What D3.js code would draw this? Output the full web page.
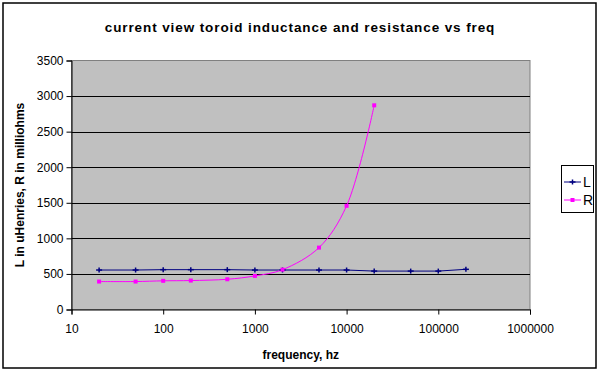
<!DOCTYPE html>
<html><head><meta charset="utf-8">
<script src="https://cdn.jsdelivr.net/npm/d3@7"></script>
<style>body{margin:0;background:#fff}svg{display:block}text{font-family:"Liberation Sans",Arial,sans-serif}</style>
</head><body><svg id="c" width="600" height="371"></svg>
<script>
const freqs = [20, 50, 100, 200, 500, 1000, 2000, 5000, 10000, 20000, 50000, 100000, 200000];
const lValues = [555, 555, 560, 560, 560, 555, 555, 555, 555, 540, 540, 540, 565];
const rFreqs = [20, 50, 100, 200, 500, 1000, 2000, 5000, 10000, 20000];
const rValues = [393, 393, 403, 407, 425, 472, 560, 870, 1458, 2870];
const xTicks = [10, 100, 1000, 10000, 100000, 1000000];
const yTicks = [0, 500, 1000, 1500, 2000, 2500, 3000, 3500];
const seriesNames = ["L", "R"];
const seriesColors = ["#000080", "#FF00FF"];

const svg = d3.select("#c");
const m = {left: 71.5, right: 530, top: 60.5, bottom: 309.5};

svg.append("rect").attr("x", 3).attr("y", 3).attr("width", 593).attr("height", 365)
  .attr("fill", "#fff").attr("stroke", "#000").attr("stroke-width", 1.5);

const x = d3.scaleLog().domain([10, 1000000]).range([m.left, m.right]);
const y = d3.scaleLinear().domain([0, 3500]).range([m.bottom, m.top]);

svg.append("rect").attr("x", m.left).attr("y", m.top).attr("width", m.right - m.left).attr("height", m.bottom - m.top)
  .attr("fill", "#C0C0C0").attr("stroke", "#808080").attr("stroke-width", 1);

svg.append("g").selectAll("line").data(yTicks.filter(d => d > 0 && d < 3500)).join("line")
  .attr("x1", m.left).attr("x2", m.right)
  .attr("y1", d => Math.round(y(d)) + 0.5).attr("y2", d => Math.round(y(d)) + 0.5)
  .attr("stroke", "#000").attr("stroke-width", 1);

const yAxis = svg.append("g").attr("transform", `translate(${m.left},0)`)
  .call(d3.axisLeft(y).tickValues(yTicks).tickSize(5).tickPadding(3).tickFormat(d3.format("d")));
const xAxis = svg.append("g").attr("transform", `translate(0,${m.bottom})`)
  .call(d3.axisBottom(x).tickValues(xTicks).tickSize(5).tickPadding(10).tickFormat(d => String(d)));
[yAxis, xAxis].forEach(a => {
  a.select(".domain").attr("stroke", "#000");
  a.selectAll(".tick line").attr("stroke", "#000");
  a.selectAll(".tick text").attr("fill", "#000").style("font-size", "12px");
});

const lData = freqs.map((f, i) => [f, lValues[i]]);
const rData = rFreqs.map((f, i) => [f, rValues[i]]);
const line = d3.line().x(d => x(d[0])).y(d => y(d[1]));
svg.append("path").datum(lData).attr("d", line).attr("fill", "none")
  .attr("stroke", seriesColors[0]).attr("stroke-width", 1);
svg.append("path").datum(rData).attr("d", line.curve(d3.curveCatmullRom.alpha(0.5))).attr("fill", "none")
  .attr("stroke", seriesColors[1]).attr("stroke-width", 1);

const plus = (g, cx, cy, col) => {
  g.append("line").attr("x1", cx - 3).attr("x2", cx + 3).attr("y1", cy).attr("y2", cy).attr("stroke", col).attr("stroke-width", 1.5);
  g.append("line").attr("x1", cx).attr("x2", cx).attr("y1", cy - 2.5).attr("y2", cy + 2.5).attr("stroke", col).attr("stroke-width", 1.5);
};
const gL = svg.append("g");
lData.forEach(d => plus(gL, x(d[0]), y(d[1]), seriesColors[0]));
svg.append("g").selectAll("rect").data(rData).join("rect")
  .attr("x", d => x(d[0]) - 2).attr("y", d => y(d[1]) - 2).attr("width", 4).attr("height", 4)
  .attr("fill", seriesColors[1]);

svg.append("text").attr("x", 300).attr("y", 32).attr("text-anchor", "middle")
  .style("font-size", "13.5px").style("font-weight", "bold").style("letter-spacing", "0.9px")
  .text("current view toroid inductance and resistance vs freq");
svg.append("text").attr("x", (m.left + m.right) / 2).attr("y", 359).attr("text-anchor", "middle")
  .style("font-size", "12px").style("font-weight", "bold").text("frequency, hz");
svg.append("text").attr("transform", `translate(24,${(m.top + m.bottom) / 2}) rotate(-90)`).attr("text-anchor", "middle")
  .style("font-size", "12px").style("font-weight", "bold").text("L in uHenries, R in milliohms");

const lg = svg.append("g");
lg.append("rect").attr("x", 561.5).attr("y", 165.5).attr("width", 32).attr("height", 47)
  .attr("fill", "#fff").attr("stroke", "#000").attr("stroke-width", 1);
seriesNames.forEach((n, i) => {
  const cy = 182 + i * 18;
  lg.append("line").attr("x1", 564).attr("x2", 581).attr("y1", cy).attr("y2", cy).attr("stroke", seriesColors[i]).attr("stroke-width", 1);
  if (i === 0) plus(lg, 572.5, cy, seriesColors[0]);
  else lg.append("rect").attr("x", 570.5).attr("y", cy - 2).attr("width", 4).attr("height", 4).attr("fill", seriesColors[1]);
  lg.append("text").attr("x", 583).attr("y", cy + 5).style("font-size", "14px").text(n);
});
</script></body></html>
